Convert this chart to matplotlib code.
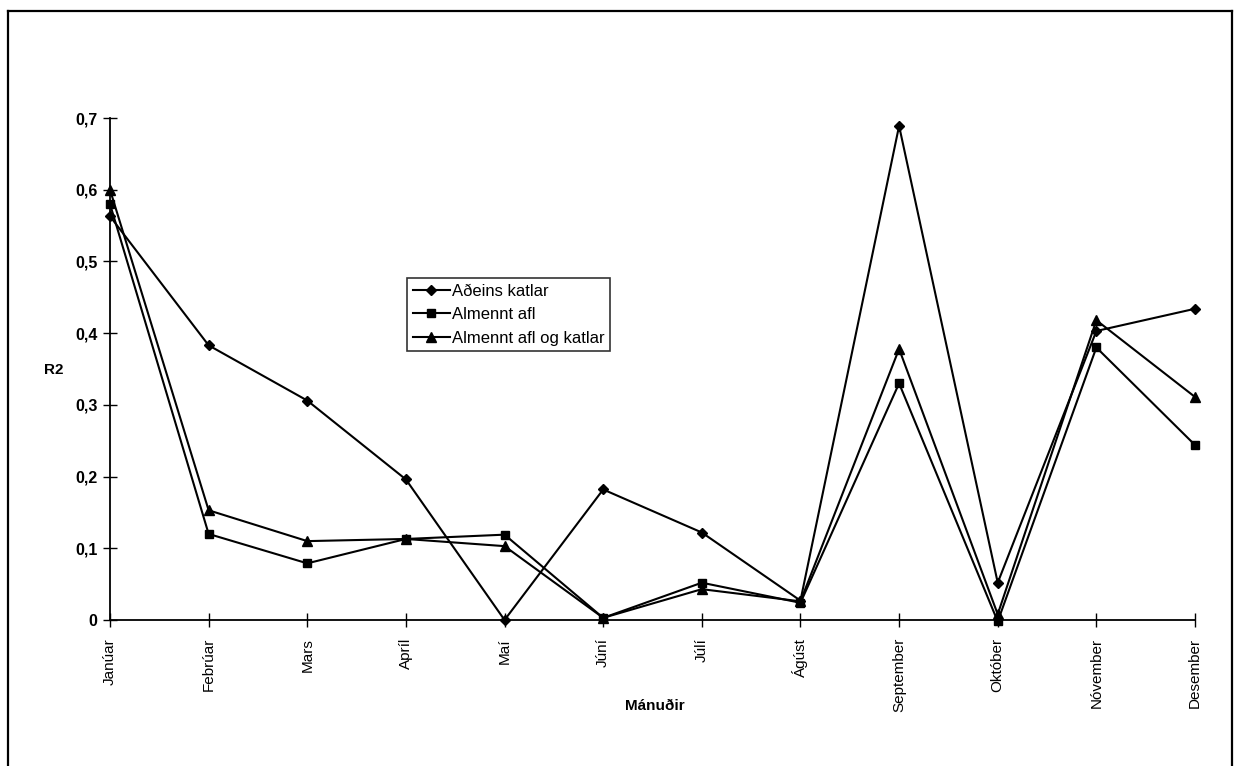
import matplotlib
matplotlib.use('Agg')
import matplotlib.pyplot as plt
from matplotlib.lines import Line2D

plt.rcParams['font.family'] = ['Liberation Sans', 'DejaVu Sans']

# Data
months = ['Janúar', 'Febrúar', 'Mars', 'Apríl', 'Maí', 'Júní', 'Júlí',
          'Ágúst', 'September', 'Október', 'Nóvember', 'Desember']
adeins_katlar = [0.563, 0.383, 0.306, 0.196, 0.0, 0.182, 0.122,
                 0.027, 0.689, 0.052, 0.403, 0.434]
almennt_afl = [0.580, 0.120, 0.079, 0.113, 0.119, 0.003, 0.052,
               0.024, 0.330, -0.002, 0.380, 0.244]
almennt_afl_katlar = [0.600, 0.153, 0.110, 0.113, 0.103, 0.003, 0.043,
                      0.026, 0.378, 0.008, 0.418, 0.311]
y_ticks = [0, 0.1, 0.2, 0.3, 0.4, 0.5, 0.6, 0.7]
y_tick_labels = ['0', '0,1', '0,2', '0,3', '0,4', '0,5', '0,6', '0,7']

W, H = 1235, 766
fig = plt.figure(figsize=(W / 100, H / 100), dpi=100)
ax = fig.add_axes([110 / W, 1 - 620 / H, 1085 / W, 502 / H])

x = list(range(len(months)))
style = dict(color='black', linewidth=1.5, clip_on=False)
ax.plot(x, adeins_katlar, marker='D', markersize=5.5, label='Aðeins katlar', **style)
ax.plot(x, almennt_afl, marker='s', markersize=6, label='Almennt afl', **style)
ax.plot(x, almennt_afl_katlar, marker='^', markersize=7, label='Almennt afl og katlar', **style)

ax.set_xlim(0, 11)
ax.set_ylim(0, 0.7)
ax.set_xticks(x)
ax.set_xticklabels(months, rotation=90, fontsize=11)
ax.set_yticks(y_ticks)
ax.set_yticklabels(y_tick_labels, fontsize=11.5, fontweight='bold')
ax.tick_params(direction='inout', length=10, width=1, colors='black')
ax.tick_params(axis='y', pad=4)
ax.tick_params(axis='x', pad=8)

for side in ['top', 'right']:
    ax.spines[side].set_visible(False)
for side in ['left', 'bottom']:
    ax.spines[side].set_linewidth(1.3)

ax.set_ylabel('R2', fontsize=11, fontweight='bold', rotation=0, va='center', ha='center')
ax.yaxis.set_label_coords((54 - 110) / 1085, (620 - 370) / 502)
ax.set_xlabel('Mánuðir', fontsize=11, fontweight='bold', va='center')
ax.xaxis.set_label_coords((655 - 110) / 1085, (620 - 706) / 502)

leg = ax.legend(loc='upper left', bbox_to_anchor=((407 - 110) / 1085, 1 - (278 - 118) / 502),
                frameon=True, fancybox=False, fontsize=12, handlelength=2.2,
                handletextpad=0.15, borderpad=0.35, labelspacing=0.5, edgecolor='black',
                borderaxespad=0)
leg.get_frame().set_linewidth(1.2)

# frame around the whole chart (open at the bottom edge)
frame = dict(color='black', linewidth=1.6, transform=fig.transFigure)
fig.add_artist(Line2D([8 / W, 8 / W], [0, 1 - 11 / H], **frame))
fig.add_artist(Line2D([8 / W, 1232 / W], [1 - 11 / H, 1 - 11 / H], **frame))
fig.add_artist(Line2D([1232 / W, 1232 / W], [0, 1 - 11 / H], **frame))

fig.savefig('out.png', dpi=100)
